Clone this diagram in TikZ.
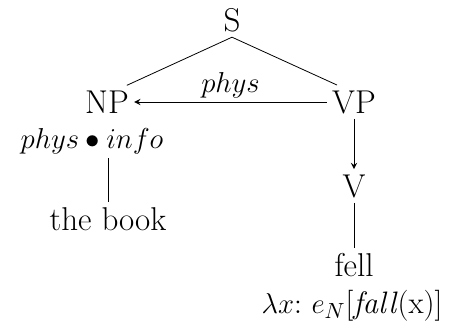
\documentclass[tikz,border=0pt]{standalone}
\usetikzlibrary{arrows,positioning}

\begin{document}
\begin{tikzpicture}[x=0.5pt, y=-0.5pt,
  cat/.style={inner sep=2.5pt, font=\fontsize{16.5}{19}\selectfont},
  sortlab/.style={inner sep=1pt, font=\fontsize{15.5}{18}\selectfont},
  arrow/.style={->,>=stealth}]
  \useasboundingbox (0,0) rectangle (453,326);

  \node[cat] (s) at (232,20) {S};
  \node[cat] (np) at (107,102) {NP};
  \node[cat] (vp) at (354,102) {VP};
  \node[sortlab] (npsort) at (92,141) {$phys \bullet info$};
  \node[cat] (book) at (108,219) {the book};
  \node[cat] (v) at (354,186) {V};
  \node[cat] (fell) at (354,265) {fell};
  \node[sortlab] (sem) at (352,306) {$\lambda x\colon\, e_N$[\textit{fall}(x)]};

  \draw (s.south) -- (np.40);
  \draw (s.south) -- (vp.135);
  \draw[arrow] (vp) -- node[sortlab, above=1pt] (coerce) {$phys$} (np);
  \draw ([yshift=-1pt]npsort.south -| book.north) -- (book);
  \draw[arrow] (vp) -- (v);
  \draw (v) -- (fell);
\end{tikzpicture}
\end{document}
